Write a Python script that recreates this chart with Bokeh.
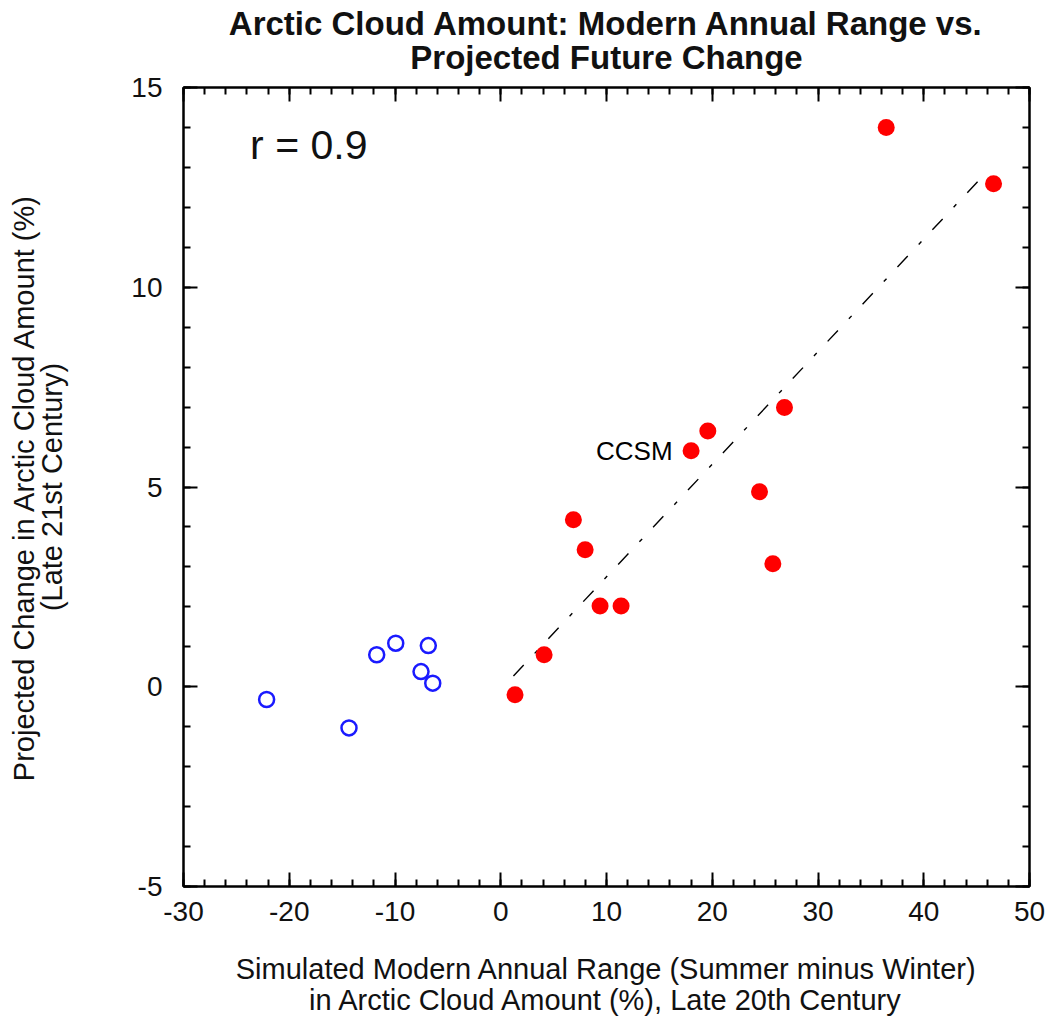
from bokeh.plotting import figure
from bokeh.models import (Range1d, LinearAxis, Label, SingleIntervalTicker,
                          PrintfTickFormatter, CustomJSTickFormatter)
from bokeh.embed import file_html
from bokeh.resources import INLINE

# Models with a positive modern annual range (filled red)
pos_range = [1.35, 4.1, 6.87, 7.98, 9.39, 11.38, 18.0, 19.58, 24.47, 25.73, 26.83, 36.45, 46.6]
pos_change = [-0.2, 0.8, 4.18, 3.43, 2.02, 2.02, 5.91, 6.40, 4.88, 3.08, 6.99, 14.0, 12.59]

# Models with a negative modern annual range (open blue)
neg_range = [-22.14, -14.35, -11.73, -9.93, -6.85, -7.54, -6.43]
neg_change = [-0.32, -1.03, 0.80, 1.09, 1.03, 0.38, 0.09]

# Least-squares fit through the positive-range models
fit_range = [1.2, 45.9]
fit_change = [0.27, 12.87]

# CCSM callout
ccsm_range = 18.0
ccsm_change = 5.91

x_ticks_major = 10
x_ticks_minor = 5
y_ticks_major = 5
y_ticks_minor = 5

heading = "Arctic Cloud Amount: Modern Annual Range vs.\nProjected Future Change"
x_title = ("Simulated Modern Annual Range (Summer minus Winter)\n"
           "in Arctic Cloud Amount (%), Late 20th Century")
y_title = "Projected Change in Arctic Cloud Amount (%)\n(Late 21st Century)"

FONT = "Liberation Sans"
INK = "#111111"

p = figure(width=1048, height=1018, output_backend="svg", toolbar_location=None,
           title=None,
           x_range=Range1d(-30, 50), y_range=Range1d(-5, 15),
           min_border_left=183, min_border_right=19, min_border_top=87,
           min_border_bottom=129, x_axis_location=None, y_axis_location=None)
p.xgrid.visible = False
p.ygrid.visible = False
p.outline_line_color = "black"
p.outline_line_width = 2
p.background_fill_color = "white"
p.border_fill_color = "white"


def style_axis(ax, show_labels):
    ax.axis_line_color = "black"
    ax.axis_line_width = 2
    ax.major_tick_in = 14
    ax.major_tick_out = 0
    ax.minor_tick_in = 7
    ax.minor_tick_out = 0
    ax.major_tick_line_width = 2
    ax.minor_tick_line_width = 2
    ax.major_tick_line_color = "black"
    ax.minor_tick_line_color = "black"
    ax.major_label_text_font = FONT
    ax.major_label_text_color = INK
    ax.major_label_text_font_size = "28px"
    ax.axis_label_text_font = FONT
    ax.axis_label_text_font_size = "29px"
    ax.axis_label_text_font_style = "normal"
    ax.axis_label_text_color = INK
    if show_labels:
        ax.formatter = PrintfTickFormatter(format="%d")
    else:
        ax.formatter = CustomJSTickFormatter(code="return ''")
        ax.major_label_standoff = 0


xt = SingleIntervalTicker(interval=x_ticks_major, num_minor_ticks=x_ticks_minor)
yt = SingleIntervalTicker(interval=y_ticks_major, num_minor_ticks=y_ticks_minor)

bottom = LinearAxis(ticker=xt)
style_axis(bottom, True)
bottom.major_label_standoff = 15
bottom.axis_label = x_title
bottom.axis_label_text_line_height = 0.97
bottom.axis_label_standoff = 29
p.add_layout(bottom, "below")

# mirrored top axis carries the centred two-line heading
top = LinearAxis(ticker=xt)
style_axis(top, False)
top.axis_label = heading
top.axis_label_text_font_size = "33px"
top.axis_label_text_font_style = "bold"
top.axis_label_text_line_height = 0.9
top.axis_label_standoff = 12
p.add_layout(top, "above")

left = LinearAxis(ticker=yt)
style_axis(left, True)
left.major_label_standoff = 21
left.axis_label = y_title
left.axis_label_text_line_height = 0.88
left.axis_label_standoff = 60
p.add_layout(left, "left")

right = LinearAxis(ticker=yt)
style_axis(right, False)
p.add_layout(right, "right")

# regression line
p.line(fit_range, fit_change, line_color="black", line_width=1.4, line_dash="15 16 4 16")

# data points
p.scatter(neg_range, neg_change, marker="circle", size=15, fill_color=None,
          line_color="#1a1aff", line_width=2.5)
p.scatter(pos_range, pos_change, marker="circle", size=17, fill_color="#ff0000",
          line_color="#ff0000", line_width=0)

# annotations
p.add_layout(Label(x=ccsm_range - 1.75, y=ccsm_change, text="CCSM", text_font=FONT,
                   text_font_size="26px", text_align="right", text_baseline="middle",
                   text_color="black"))
p.add_layout(Label(x=-23.7, y=13.55, text="r = 0.9", text_font=FONT,
                   text_font_size="41px", text_align="left", text_baseline="middle",
                   text_color=INK))

open("out.html", "w").write(file_html(p, INLINE))
